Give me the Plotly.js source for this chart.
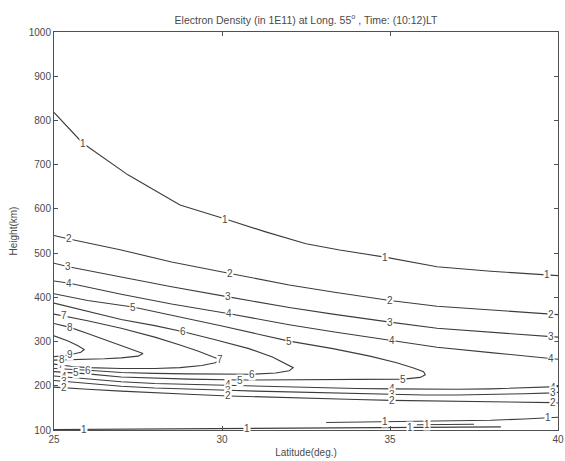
<!DOCTYPE html>
<html><head><meta charset="utf-8">
<script src="https://cdn.plot.ly/plotly-3.0.1.min.js"></script>
<style>html,body{margin:0;padding:0;background:#fff}#chart{width:565px;height:461px}</style>
</head><body><div id="chart"></div>
<script>
// Axis ticks
const xTicks = [25, 30, 35, 40];
const yTicks = [100, 200, 300, 400, 500, 600, 700, 800, 900, 1000];

// Contour paths (latitude in deg, height in km)
const c1UpLat = [25, 25.85, 27.2, 28.75, 30.1, 31.3, 32.5, 33.5, 34.85, 36.4, 38, 39.66, 40];
const c1UpH   = [818, 749, 677, 609, 577, 548, 521, 507, 491, 469, 459, 451, 449];
const c2UpLat = [25, 25.45, 27, 28.5, 30.24, 32, 33.3, 34.4, 35, 36.4, 38, 39.8, 40];
const c2UpH   = [540, 532, 507, 480, 454, 428, 412, 400, 393, 380, 371, 362, 361];
const c3UpLat = [25, 25.43, 27, 28.5, 30.19, 32, 33.3, 34.4, 35, 36.4, 38, 39.8, 40];
const c3UpH   = [477, 469, 446, 424, 401, 377, 362, 350, 344, 330, 321, 311, 310];
const c4UpLat = [25, 25.46, 27, 28.5, 30.22, 32, 33.3, 34.4, 35.05, 36.4, 38, 39.8, 40];
const c4UpH   = [437, 432, 407, 385, 363, 338, 322, 310, 302, 287, 275, 262, 260];
const c5Lat = [25, 26, 27.35, 29, 30, 32, 33.3, 34.4, 35.2, 35.7, 36.0, 36.05, 35.9, 35.4, 34, 33, 31.5, 30.54, 29, 28, 27, 26, 25.65, 25];
const c5H   = [408, 393, 378, 352, 335, 301, 284, 267, 252, 240, 232, 225, 219, 215, 214, 214, 213, 213, 215, 217, 220, 227, 229, 232];
const c6Lat = [25, 26, 27, 28, 28.85, 29.8, 30.8, 31.5, 31.9, 32.12, 32.0, 31.6, 30.88, 30, 29, 28, 27, 26.02, 25.5, 25];
const c6H   = [387, 369, 350, 336, 322, 304, 284, 265, 250, 241, 234, 229, 226, 226, 227, 228, 230, 235, 237, 239];
const c7Lat = [25, 25.3, 26, 27, 28, 28.75, 29.3, 29.7, 29.95, 29.8, 29.4, 28.75, 28, 27, 26, 25.5, 25.2, 25];
const c7H   = [362, 358, 347, 330, 310, 292, 278, 266, 259, 252, 246, 241, 239, 239, 241, 244, 247, 249];
const c8Lat = [25, 25.48, 26, 26.5, 27, 27.4, 27.65, 27.5, 27, 26.5, 26, 25.5, 25.23, 25];
const c8H   = [341, 332, 318, 304, 291, 280, 273, 267, 263, 261, 260, 259, 258.5, 258];
const c9Lat = [25, 25.4, 25.7, 25.9, 25.8, 25.48, 25.2, 25];
const c9H   = [313, 302, 291, 282, 276, 270, 267.5, 266];
const lowLat = [25, 25.3, 26, 27, 28, 29, 30.19, 31, 32, 33, 34, 35.05, 36, 37, 38, 39, 39.85, 40];
const c4LowH = [222, 220, 214, 209, 205, 203, 202, 200, 198, 196, 194, 193, 192, 192, 193, 195, 197, 198];
const c3LowH = [212, 210, 205, 199, 195, 192, 190, 188, 186, 184, 182, 180, 179, 179, 180, 182, 184, 185];
const c2LowH = [197, 196, 192, 188, 184, 181, 177, 175, 173, 171, 169, 167, 166, 165, 165, 163, 162, 161];
const c1BotALat = [25, 25.9, 28, 30.75, 33, 35.6, 38.3];
const c1BotAH   = [101, 101.5, 102.5, 103.5, 105, 106, 107];
const c1BotBLat = [33.1, 34, 34.85, 36, 37, 38, 39, 39.7, 40];
const c1BotBH   = [117, 118, 119, 119.5, 120, 122, 125, 128, 129];
const c1BotCLat = [35.8, 36.1, 37.5];
const c1BotCH   = [112, 112, 113];

// Contour labels (text, latitude, height)
const labelText = ['1','1','1','1', '2','2','2','2', '3','3','3','3', '4','4','4','4',
  '5','5','5','5','5', '6','6','6', '7','7','7', '8','8', '9',
  '4','4','4','4', '3','3','3','3', '2','2','2','2', '1','1','1','1','1','1'];
const labelLat = [25.85,30.1,34.85,39.66, 25.45,30.24,35,39.8, 25.43,30.19,35,39.8, 25.46,30.22,35.05,39.8,
  27.35,32,35.4,30.54,25.65, 28.85,30.88,26.02, 25.3,29.95,25.2, 25.48,25.23, 25.48,
  25.3,30.19,35.05,39.85, 25.3,30.19,35.05,39.85, 25.3,30.19,35.05,39.85, 25.9,30.75,34.85,35.6,36.1,39.7];
const labelH = [749,577,491,451, 532,454,393,362, 469,401,344,311, 432,363,302,262,
  378,301,215,213,229, 322,226,235, 358,259,247, 332,258.5, 270,
  220,202,193,197, 210,190,180,184, 196,177,167,162, 101.5,103.5,119,106,112,128];

const lineColor = '#3c3c3c';
const textColor = '#4a4a4a';
const font = 'Liberation Sans, Arial, Helvetica, sans-serif';

const paths = [
  [c1UpLat, c1UpH], [c2UpLat, c2UpH], [c3UpLat, c3UpH], [c4UpLat, c4UpH],
  [c5Lat, c5H], [c6Lat, c6H], [c7Lat, c7H], [c8Lat, c8H], [c9Lat, c9H],
  [lowLat, c4LowH], [lowLat, c3LowH], [lowLat, c2LowH],
  [c1BotALat, c1BotAH], [c1BotBLat, c1BotBH], [c1BotCLat, c1BotCH]
];
const traces = paths.map(p => ({
  type: 'scatter', mode: 'lines', x: p[0], y: p[1],
  line: {color: lineColor, width: 1.1}, hoverinfo: 'skip'
}));

const annotations = labelText.map((t, i) => ({
  x: labelLat[i], y: labelH[i], xref: 'x', yref: 'y', text: t, showarrow: false,
  font: {family: font, size: 10, color: textColor}, bgcolor: '#ffffff', borderpad: 0
}));

const axisCommon = {
  showline: true, linecolor: '#505050', linewidth: 1, mirror: 'ticks',
  ticks: 'inside', ticklen: 4, tickcolor: '#505050', showgrid: false, zeroline: false,
  tickfont: {family: font, size: 10, color: textColor}
};

const layout = {
  width: 565, height: 461,
  margin: {l: 54, r: 7, t: 32, b: 31},
  paper_bgcolor: '#ffffff', plot_bgcolor: '#ffffff',
  showlegend: false,
  title: {text: 'Electron Density (in 1E11) at Long. 55<sup>o</sup> , Time: (10:12)LT',
    font: {family: font, size: 10.5, color: textColor},
    x: 0.5, xref: 'paper', y: 1 - 20 / 461, yref: 'container', yanchor: 'middle'},
  xaxis: Object.assign({}, axisCommon, {range: [25, 40], tickvals: xTicks,
    title: {text: 'Latitude(deg.)', font: {family: font, size: 10, color: textColor}, standoff: 4}}),
  yaxis: Object.assign({}, axisCommon, {range: [100, 1000], tickvals: yTicks,
    title: {text: 'Height(km)', font: {family: font, size: 10, color: textColor}, standoff: 9}}),
  annotations: annotations
};

Plotly.newPlot('chart', traces, layout, {displayModeBar: false, staticPlot: true});
</script>
</body></html>
